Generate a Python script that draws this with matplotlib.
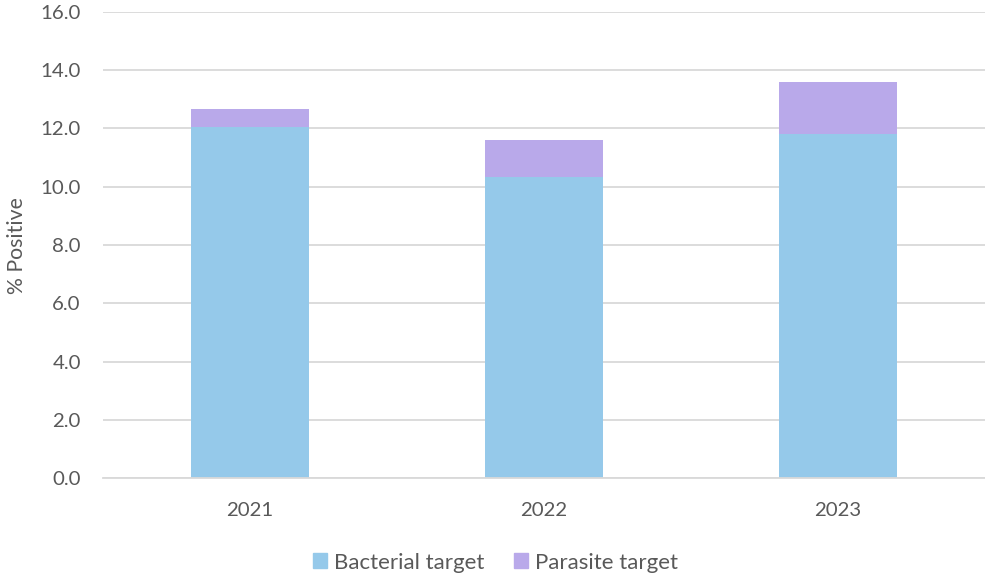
import matplotlib.pyplot as plt
import matplotlib.patches as mpatches
import numpy as np

years = ["2021", "2022", "2023"]
bacterial = [12.05, 10.35, 11.8]
parasite = [0.6, 1.25, 1.8]

BACT_COLOR = "#95c9ea"
PARA_COLOR = "#b9a9ea"
TEXT_COLOR = "#595959"
GRID_COLOR = "#d9d9d9"

plt.rcParams["font.family"] = ["Lato", "DejaVu Sans"]

fig = plt.figure(figsize=(9.85, 5.74), dpi=100)
ax = fig.add_axes([0.1046, 0.1664, 0.8954, 0.8132])

x = np.arange(len(years))
ax.bar(x, bacterial, width=0.4, color=BACT_COLOR, zorder=2)
ax.bar(x, parasite, width=0.4, bottom=bacterial, color=PARA_COLOR, zorder=2)

ax.set_xlim(-0.5, 2.5)
ax.set_ylim(0, 16)
ax.set_yticks(np.arange(0, 16.1, 2))
ax.set_yticklabels([f"{v:.1f}" for v in np.arange(0, 16.1, 2)])
ax.set_xticks(x)
ax.set_xticklabels(years)

ax.yaxis.grid(True, color=GRID_COLOR, linewidth=1.3, zorder=0)
ax.set_axisbelow(True)
for side in ["top", "right", "left"]:
    ax.spines[side].set_visible(False)
ax.spines["bottom"].set_color(GRID_COLOR)
ax.spines["bottom"].set_linewidth(1.3)

ax.tick_params(axis="both", length=0, labelsize=14.7, colors=TEXT_COLOR)
ax.tick_params(axis="y", pad=16)
ax.tick_params(axis="x", pad=17)
ax.set_ylabel("% Positive", fontsize=15.3, color=TEXT_COLOR, labelpad=10)

handles = [mpatches.Patch(color=BACT_COLOR, label="Bacterial target"),
           mpatches.Patch(color=PARA_COLOR, label="Parasite target")]
fig.legend(handles=handles, loc="center", bbox_to_anchor=(0.503, 0.02),
           ncol=2, frameon=False, fontsize=16, handlelength=0.63,
           handleheight=0.63, handletextpad=0.3, columnspacing=1.35,
           labelcolor=TEXT_COLOR)

fig.savefig("out.png", dpi=100)
